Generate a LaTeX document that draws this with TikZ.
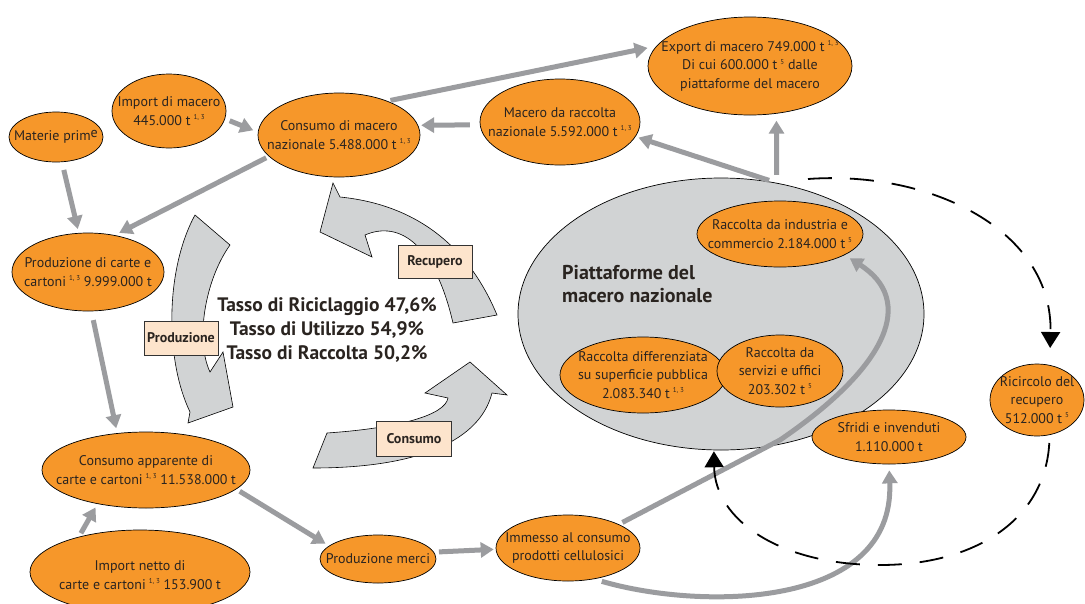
\documentclass[tikz,border=0pt]{standalone}
\usepackage{fontspec}
\setmainfont{PT Sans}
\usetikzlibrary{shapes.geometric,arrows.meta}
\definecolor{orng}{HTML}{F6972A}
\definecolor{txtc}{HTML}{2A2420}
\definecolor{arrgrey}{HTML}{9B9C9F}
\definecolor{lgrey}{HTML}{D1D3D4}
\definecolor{peach}{HTML}{FDE4CC}
\newcommand\spr[1]{\hspace{3pt}\raisebox{0.8ex}{\fontsize{7}{7}\selectfont #1}}
\begin{document}
\begin{tikzpicture}[x=1pt,y=-1pt,
 ell/.style={ellipse, draw=black, line width=0.7pt, fill=orng, inner sep=0pt},
 etxt/.style={align=center, text=txtc, font=\fontsize{14}{18.5}\selectfont, inner sep=0pt},
 garrow/.style={draw=arrgrey, line width=5pt, -{Triangle[length=13pt,width=15pt]}},
 blk/.style={fill=lgrey, draw=black, line width=0.6pt},
 lbl/.style={draw=black!80, line width=0.9pt, fill=peach, font=\bfseries\fontsize{14}{15}\selectfont, minimum height=34pt, inner sep=1pt, text=txtc},
 darrow/.style={draw=black, line width=1.8pt, dash pattern=on 24pt off 18pt, -{Triangle[length=16pt,width=19pt]}}
]
\fill[white] (0,0) rectangle (1085,603);
\clip (0,0) rectangle (1085,603);

% platform ellipse
\node[ellipse, draw=black, line width=0.7pt, fill=lgrey, inner sep=0pt, minimum width=406pt, minimum height=272pt] (piatt) at (721,314) {};
\node[font=\bfseries\fontsize{20}{23.5}\selectfont, align=left, anchor=west, text=txtc, inner sep=0pt] (ptitle) at (562,284) {Piattaforme del\\macero nazionale};
\node[ell, minimum width=166pt, minimum height=66pt, label={[etxt]center:{Raccolta da industria e\\commercio 2.184.000 t\spr{5}}}] (ind) at (780,234) {};
\node[ell, minimum width=166pt, minimum height=76pt, label={[etxt]center:{Raccolta differenziata\\su superficie pubblica\\2.083.340 t\spr{1, 3}}}] (diff) at (643,375) {};
\node[ell, minimum width=126pt, minimum height=72pt, label={[etxt]center:{Raccolta da\\servizi e uffici\\203.302 t\spr{5}}}] (serv) at (780,371) {};

% block arrows
\path[blk] (195,215) -- (230,245) .. controls (205,280) and (195,340) .. (210,372) -- (223,352) -- (233,407) -- (188,423) -- (190,412) .. controls (165,360) and (165,270) .. (195,215) -- cycle;
\path[blk] (497,315) .. controls (470,250) and (420,205) .. (340,197) -- (333,183) -- (320,232) -- (372,257) -- (365,235) .. controls (400,220) and (435,245) .. (453,323) -- cycle;
\path[blk] (327,433) .. controls (400,428) and (445,415) .. (448,398) -- (425,393) -- (470,362) -- (507,395) -- (492,393) .. controls (480,440) and (420,468) .. (313,468) -- cycle;
\node[lbl, minimum width=74pt] (lprod) at (181,338) {Produzione};
\node[lbl, minimum width=74pt, minimum height=33pt] (lrec) at (435,262) {Recupero};
\node[lbl, minimum width=75pt, minimum height=35pt] (lcons) at (414,439) {Consumo};
\node[font=\bfseries\fontsize{19.5}{24}\selectfont, align=center, text=txtc] (tassi) at (327,330) {Tasso di Riciclaggio 47,6\%\\Tasso di Utilizzo 54,9\%\\Tasso di Raccolta 50,2\%};

% orange ellipses
\node[ell, minimum width=94pt, minimum height=50pt, label={[etxt]center:{Materie prim\raisebox{3pt}{e}}}] (mat) at (56,137) {};
\node[ell, minimum width=114pt, minimum height=74pt, label={[etxt]center:{Import di macero\\445.000 t\spr{1, 3}}}] (imp) at (169,111) {};
\node[ell, minimum width=162pt, minimum height=84pt, label={[etxt]center:{Consumo di macero\\nazionale 5.488.000 t\spr{1, 3}}}] (cons) at (339,135) {};
\node[ell, minimum width=204pt, minimum height=98pt, label={[etxt]center:{Export di macero 749.000 t\spr{1, 3}\\Di cui 600.000 t\spr{5} dalle\\piattaforme del macero}}] (exp) at (750,66) {};
\node[ell, minimum width=160pt, minimum height=86pt, label={[etxt]center:{Macero da raccolta\\nazionale 5.592.000 t\spr{1, 3}}}] (mac) at (560,122) {};
\node[ell, minimum width=152pt, minimum height=78pt, label={[etxt]center:{Produzione di carte e\\cartoni\spr{1, 3} 9.999.000 t}}] (prod) at (88,272) {};
\node[ell, minimum width=208pt, minimum height=76pt, label={[etxt]center:{Consumo apparente di\\carte e cartoni\spr{1, 3} 11.538.000 t}}] (capp) at (146,470) {};
\node[ell, minimum width=220pt, minimum height=84pt, label={[etxt, yshift=-3pt]center:{Import netto di\\carte e cartoni\spr{1, 3} 153.900 t}}] (inet) at (140,572) {};
\node[ell, minimum width=116pt, minimum height=48pt, label={[etxt]center:{Produzione merci}}] (pm) at (378,559) {};
\node[ell, minimum width=144pt, minimum height=66pt, label={[etxt]center:{Immesso al consumo\\prodotti cellulosici}}] (imm) at (568,548) {};
\node[ell, minimum width=154pt, minimum height=54pt, label={[etxt]center:{Sfridi e invenduti\\1.110.000 t}}] (sfr) at (889,437) {};
\node[ell, minimum width=94pt, minimum height=72pt, label={[etxt]center:{Ricircolo del\\recupero\\512.000 t\spr{5}}}] (ric) at (1037,400) {};

% grey connectors
\draw[garrow, shorten <=8pt, shorten >=4pt] (mat) -- (prod);
\draw[garrow, shorten <=5pt, shorten >=5pt] (imp.-8) -- (cons.178);
\draw[garrow, shorten <=3pt, shorten >=5pt] (cons.197) -- (prod.54);
\draw[garrow, shorten <=3pt, shorten >=9pt] (cons.35) -- (exp.168);
\draw[garrow, shorten <=10pt, shorten >=3pt] (mac.182) -- (cons.7);
\draw[garrow, shorten <=8pt, shorten >=3pt] (piatt.67) -- (mac.-11);
\draw[garrow, shorten <=8pt, shorten >=7pt] (piatt.67) -- (exp.-61);
\draw[garrow, shorten <=9pt, shorten >=5pt] (prod.-85) -- (capp.128);
\draw[garrow, shorten <=4pt, shorten >=4pt] (inet.150) -- (capp.215);
\draw[garrow, shorten <=4pt, shorten >=4pt] (capp.-12) -- (pm.165);
\draw[garrow, shorten <=5pt, shorten >=2pt] (pm.7) -- (imm.181);
\draw[garrow, shorten <=4pt, shorten >=6pt] (imm.25) -- (780,440) .. controls (890,365) and (915,300) .. (ind.-18);
\draw[garrow, shorten <=8pt, shorten >=6pt] (imm.-50) .. controls (700,610) and (895,610) .. (sfr.-90);

% dashed connectors
\coordinate (dstart) at (808,179);
\draw[darrow, shorten >=17pt] (dstart) .. controls (930,170) and (1053,230) .. (ric.70);
\draw[darrow, shorten <=8pt, shorten >=1pt] (ric.-70) .. controls (1045,520) and (975,565) .. (880,565) .. controls (780,565) and (715,520) .. (piatt.-93);
\end{tikzpicture}
\end{document}
